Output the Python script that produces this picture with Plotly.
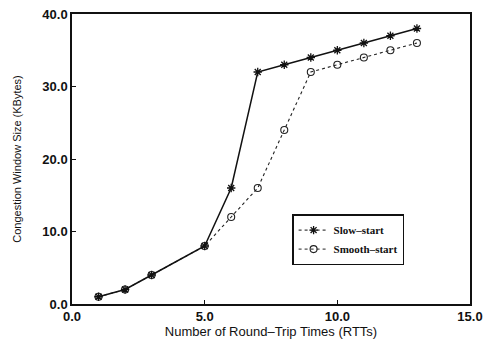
import plotly.graph_objects as go

slow_x = [1, 2, 3, 5, 6, 7, 8, 9, 10, 11, 12, 13]
slow_y = [1, 2, 4, 8, 16, 32, 33, 34, 35, 36, 37, 38]
smooth_x = [1, 2, 3, 5, 6, 7, 8, 9, 10, 11, 12, 13]
smooth_y = [1, 2, 4, 8, 12, 16, 24, 32, 33, 34, 35, 36]
x_ticks = [0, 5, 10, 15]
y_ticks = [0, 10, 20, 30, 40]

slow_marker = dict(symbol="asterisk-open", size=7, color="#111", line=dict(width=1.3))
smooth_marker = dict(symbol="circle-open", size=7, color="#222", line=dict(width=1.1))

fig = go.Figure()
fig.add_trace(go.Scatter(
    x=smooth_x, y=smooth_y, mode="lines+markers", showlegend=False,
    line=dict(color="#222", width=1.1, dash="dot"), marker=smooth_marker,
))
fig.add_trace(go.Scatter(
    x=slow_x, y=slow_y, mode="lines+markers", showlegend=False,
    line=dict(color="#111", width=1.5), marker=slow_marker,
))
# legend entries (dotted line samples as in the reference key)
fig.add_trace(go.Scatter(
    x=[None], y=[None], name="Slow\u2013start", mode="lines+markers",
    line=dict(color="#111", width=1, dash="dot"), marker=slow_marker,
))
fig.add_trace(go.Scatter(
    x=[None], y=[None], name="Smooth\u2013start", mode="lines+markers",
    line=dict(color="#222", width=1, dash="dot"), marker=smooth_marker,
))

fig.update_layout(
    width=490, height=344,
    margin=dict(l=72, r=13, t=7, b=40),
    paper_bgcolor="white", plot_bgcolor="white",
    font=dict(family="Liberation Sans, Arial, sans-serif", color="#111"),
    legend=dict(
        x=0.553, y=0.31, xanchor="left", yanchor="top",
        bordercolor="#111", borderwidth=1.5, bgcolor="white",
        font=dict(family="Liberation Serif, Times New Roman, serif", size=11,
                  color="#111", weight="bold"),
        itemwidth=30, tracegroupgap=0,
    ),
    showlegend=True,
)
fig.update_xaxes(
    range=[0, 15], tickvals=x_ticks, tickformat=".1f",
    ticks="inside", ticklen=4, tickcolor="#111",
    showgrid=False, zeroline=False,
    showline=True, linecolor="#111", linewidth=1.5, mirror=True,
    tickfont=dict(size=13, family="Liberation Sans, Arial, sans-serif", weight="bold"),
    title=dict(text="Number of Round\u2013Trip Times (RTTs)", font=dict(size=13), standoff=4),
)
fig.update_yaxes(
    range=[0, 40], tickvals=y_ticks, tickformat=".1f",
    ticks="inside", ticklen=4, tickcolor="#111",
    showgrid=False, zeroline=False,
    showline=True, linecolor="#111", linewidth=1.5, mirror=True,
    tickfont=dict(size=13, family="Liberation Sans, Arial, sans-serif", weight="bold"),
    title=dict(text="Congestion Window Size (KBytes)", font=dict(size=11), standoff=18),
)

fig.write_html("out.html")
